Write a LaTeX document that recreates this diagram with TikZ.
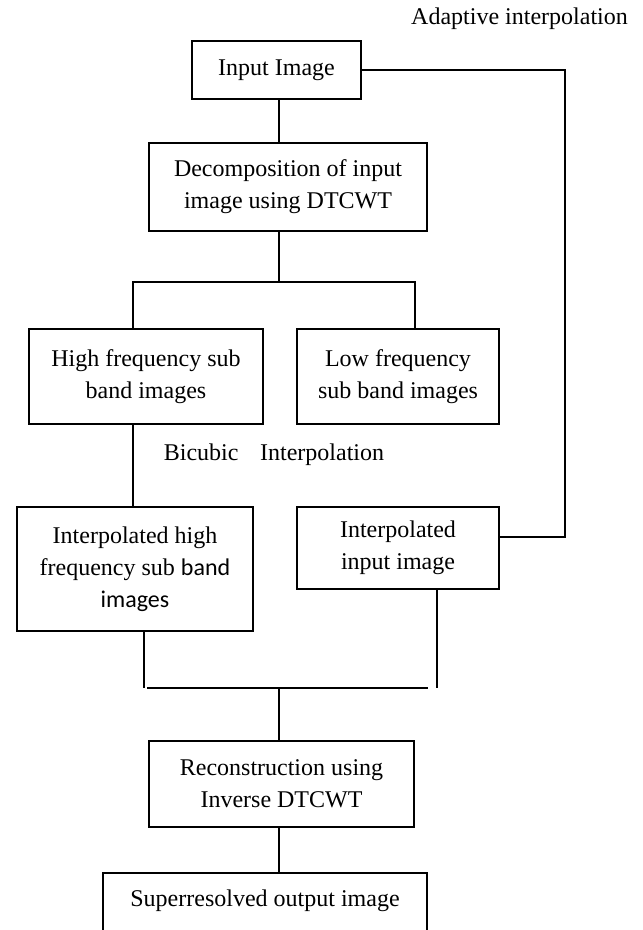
\documentclass[tikz,border=0pt]{standalone}
\usepackage{fontspec}
\setmainfont{Liberation Serif}
\newfontfamily\calibri{Carlito}
\begin{document}
\begin{tikzpicture}[
    x=1pt, y=-1pt,
    blk/.style={
        rectangle,
        draw=black,
        line width=2.2pt,
        minimum width=#1,
        inner sep=0pt,
        align=center,
        font=\fontsize{24}{32}\selectfont
    },
    link/.style={line width=1.8pt},
    lbl/.style={font=\fontsize{24}{32}\selectfont}
]
\useasboundingbox (0,0) rectangle (643,930);
\clip (0,0) rectangle (643,930);

\node[blk=169pt, minimum height=58pt] (in) at (276.5,70) {Input Image};
\node[blk=278pt, minimum height=88pt] (dec) at (288,187) {Decomposition of input\\image using DTCWT};
\node[blk=234pt, minimum height=95pt] (hi) at (146,376.5) {High frequency sub\\band images};
\node[blk=202pt, minimum height=95pt] (lo) at (398,376.5) {Low frequency\\sub band images};
\node[blk=236pt, minimum height=124pt] (ihi) at (135,569) {Interpolated high\\frequency sub {\calibri band}\\{\calibri images}};
\node[blk=202pt, minimum height=82pt] (iin) at (398,548) {Interpolated\\input image};
\node[blk=265pt, minimum height=86pt] (rec) at (281.5,784) {Reconstruction using\\Inverse DTCWT};
\node[blk=324pt, anchor=north, inner ysep=17pt, text depth=40pt] (sup) at (265,872) {Superresolved output image};

\node[lbl] (adapt) at (519.5,19) {Adaptive interpolation};
\node[lbl] (bicubic) at (274,455) {Bicubic\hspace{0.9em}Interpolation};

% branch and merge points
\coordinate (bl) at (133,282);
\coordinate (brr) at (415,282);
\coordinate (rt) at (565,300);
\coordinate (ml) at (144,688);
\coordinate (mm) at (279,688);
\coordinate (mr) at (437,688);

\draw[link] (in.south -| mm) -- (dec.north -| mm);
\draw[link] (dec.south -| mm) -- (bl -| mm);
\draw[link] (bl |- hi.north) -- (bl) -- (brr) -- (brr |- lo.north);
\draw[link] (bl |- hi.south) -- (bl |- ihi.north);
\draw[link] (in.east) -- (in.east -| rt) -- ([yshift=11pt]iin.east -| rt) -- ([yshift=11pt]iin.east);

\draw[link] (ml |- ihi.south) -- (ml);
\draw[link] (mr |- iin.south) -- (mr);
\draw[link] ([xshift=3pt]ml) -- ([xshift=-9pt]mr);
\draw[link] (mm) -- (mm |- rec.north);
\draw[link] (mm |- rec.south) -- (mm |- sup.north);

\end{tikzpicture}
\end{document}
